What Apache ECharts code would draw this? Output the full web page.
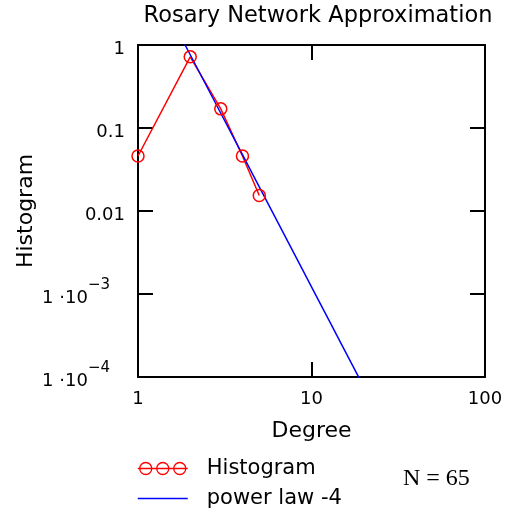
<!DOCTYPE html>
<html>
<head>
<meta charset="utf-8">
<script src="https://cdn.jsdelivr.net/npm/echarts@6/dist/echarts.min.js"></script>
<style>html,body{margin:0;padding:0;background:#fff;}#c{width:512px;height:513px;}</style>
</head>
<body>
<div id="c"></div>
<script>
// Histogram (observed degree distribution)
const histDegree = [1, 2, 3, 4, 5];
const histValue = [0.046, 0.72, 0.17, 0.046, 0.0154];
// power law with exponent -4
const powDegree = [1, 2, 3, 4, 5, 6, 7, 8, 9, 10, 11, 12, 13, 14, 15, 16, 17, 18, 19, 20];
const powValue = [12.2, 0.7625, 0.1506, 0.04766, 0.01952, 0.009414, 0.005081, 0.002979, 0.001859, 0.00122,
  0.000833, 0.000588, 0.000427, 0.000318, 0.000241, 0.000186, 0.000146, 0.000116, 0.0000936, 0.0000763];
// tick labels
const xTickExp = [0, 1, 2];
const xTickLabels = ['1', '10', '100'];
const yTickExp = [0, -1, -2, -3, -4];
const yTickLabels = ['{p|1}', '{p|0.1}', '{p|0.01}', '{m|1 \u00B710}{s|\u22123}', '{m|1 \u00B710}{s|\u22124}'];
const titleText = 'Rosary Network Approximation';
const noteText = 'N = 65';

const FONT = 'DejaVu Sans';
const chart = echarts.init(document.getElementById('c'), null, {renderer: 'canvas'});

const axisLineStyle = {show: true, lineStyle: {color: '#000', width: 2}};
const tickStyle = {show: true, inside: true, length: 15, lineStyle: {color: '#000', width: 2}};

function xLabel(v) {
  const e = Math.round(Math.log10(v));
  const i = xTickExp.indexOf(e);
  return i >= 0 ? xTickLabels[i] : '';
}
function yLabel(v) {
  const e = Math.round(Math.log10(v));
  const i = yTickExp.indexOf(e);
  return i >= 0 ? yTickLabels[i] : '';
}

const option = {
  backgroundColor: '#fff',
  animation: false,
  title: {
    text: titleText,
    left: 313, top: 0, textAlign: 'center',
    textStyle: {fontFamily: FONT, fontSize: 22.5, fontWeight: 'normal', color: '#000'}
  },
  grid: {left: 138, right: 27, top: 45, bottom: 136},
  xAxis: [{
    type: 'log', logBase: 10, min: 1, max: 100,
    name: 'Degree', nameLocation: 'middle', nameGap: 43, nameMoveOverlap: false,
    nameTextStyle: {fontFamily: FONT, fontSize: 22, color: '#000'},
    axisLine: axisLineStyle, axisTick: tickStyle, splitLine: {show: false},
    axisLabel: {formatter: xLabel, fontFamily: FONT, fontSize: 18, color: '#000', margin: 13}
  }, {
    type: 'log', logBase: 10, min: 1, max: 100, position: 'top',
    axisLine: axisLineStyle, axisTick: tickStyle, splitLine: {show: false},
    axisLabel: {show: false}
  }],
  yAxis: [{
    type: 'log', logBase: 10, min: 0.0001, max: 1,
    name: 'Histogram', nameLocation: 'middle', nameGap: 101, nameMoveOverlap: false,
    nameTextStyle: {fontFamily: FONT, fontSize: 22, color: '#000'},
    axisLine: axisLineStyle, axisTick: tickStyle, splitLine: {show: false},
    axisLabel: {
      formatter: yLabel, margin: 13, color: '#000',
      rich: {
        p: {fontFamily: FONT, fontSize: 18, color: '#000', padding: [8, 0, 0, 0]},
        m: {fontFamily: FONT, fontSize: 18, color: '#000', padding: [8, 0, 0, 0]},
        s: {fontFamily: FONT, fontSize: 15, color: '#000', padding: [0, 15, 18, 0]}
      }
    }
  }, {
    type: 'log', logBase: 10, min: 0.0001, max: 1, position: 'right',
    axisLine: axisLineStyle, axisTick: tickStyle, splitLine: {show: false},
    axisLabel: {show: false}
  }],
  legend: {
    orient: 'vertical', left: 137, top: 458, height: 55, padding: 0,
    itemWidth: 50, itemHeight: 12, itemGap: 9,
    textStyle: {fontFamily: FONT, fontSize: 21, color: '#000', padding: [0, 0, 0, 14]},
    data: [{
      name: 'Histogram',
      icon: 'path://M0,6 L50,6 M2,6 A6,6 0 1 1 14,6 A6,6 0 1 1 2,6 M19,6 A6,6 0 1 1 31,6 A6,6 0 1 1 19,6 M36,6 A6,6 0 1 1 48,6 A6,6 0 1 1 36,6',
      itemStyle: {color: 'rgba(0,0,0,0)', borderColor: '#ff0000', borderWidth: 1.3}
    }, {
      name: 'power law -4',
      icon: 'path://M0,0 L0,0 M0,6 L50,6 M50,12 L50,12',
      itemStyle: {color: 'rgba(0,0,0,0)', borderColor: '#0000ff', borderWidth: 1.5}
    }]
  },
  graphic: [{
    type: 'text', left: 403, top: 467,
    style: {text: noteText, font: '24px "Liberation Serif"', fill: '#000'}
  }],
  series: [{
    name: 'Histogram', type: 'line',
    data: histDegree.map((d, i) => [d, histValue[i]]),
    symbol: 'circle', symbolSize: 12,
    lineStyle: {color: '#ff0000', width: 1.5},
    itemStyle: {color: 'rgba(0,0,0,0)', borderColor: '#ff0000', borderWidth: 1.5}
  }, {
    name: 'power law -4', type: 'line',
    data: powDegree.map((d, i) => [d, powValue[i]]),
    showSymbol: false, symbol: 'none',
    lineStyle: {color: '#0000ff', width: 1.5},
    itemStyle: {color: '#0000ff'}
  }]
};
chart.setOption(option);
</script>
</body>
</html>
